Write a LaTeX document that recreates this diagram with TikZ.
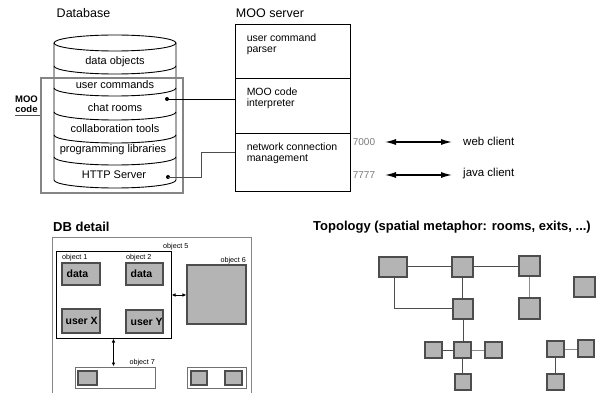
\documentclass[tikz,border=0pt]{standalone}
\usepackage{fontspec}
\setmainfont{Liberation Sans}
\usetikzlibrary{arrows.meta}
\definecolor{boxfill}{HTML}{B4B4B4}
\definecolor{boxline}{HTML}{4D4D4D}
\definecolor{frameline}{HTML}{858585}
\definecolor{portgray}{HTML}{7A7A7A}
\definecolor{edgelight}{HTML}{8C8C8C}
\newcommand{\myfs}[1]{\fontsize{#1}{#1}\selectfont}
\begin{document}
\begin{tikzpicture}[x=1pt,y=-1pt,
  lbl/.style={inner sep=0pt, font=\myfs{11}},
  title/.style={inner sep=0pt, font=\myfs{12.5}},
  btitle/.style={inner sep=0pt, font=\bfseries\myfs{13}},
  srvbox/.style={draw, line width=0.9pt, minimum width=115pt, inner sep=0pt},
  srvtext/.style={inner sep=0pt, align=left, anchor=north west, font=\fontsize{10.5}{11}\selectfont},
  port/.style={inner sep=0pt, text=portgray, font=\myfs{10}},
  client/.style={inner sep=0pt, anchor=west, font=\myfs{11.5}},
  biarrow/.style={{Latex[length=11pt,width=6pt]}-{Latex[length=11pt,width=6pt]}, line width=1.3pt},
  smallarrow/.style={{Latex[length=4pt,width=3.5pt]}-{Latex[length=4pt,width=3.5pt]}, line width=0.9pt},
  dot/.style={circle, fill=black, inner sep=0pt, minimum size=4pt},
  conn/.style={line width=0.9pt},
  grayobj/.style={draw=boxline, fill=boxfill, line width=1.1pt, inner sep=0pt},
  whiteobj/.style={draw=boxline, fill=white, line width=1pt, inner sep=0pt},
  objlbl/.style={inner sep=0pt, font=\myfs{7.2}},
  objtext/.style={inner sep=0pt, anchor=west, font=\bfseries\myfs{10.5}},
  room/.style={draw=boxline, fill=boxfill, line width=1.1pt, inner sep=0pt},
  edge/.style={draw=boxline, line width=1pt},
  edgel/.style={draw=edgelight, line width=1pt}
]
\useasboundingbox (0,0) rectangle (606,393);

% ---------------- Database cylinder ----------------
\node[title] (dbtitle) at (83.5,13) {Database};
\begin{scope}[line width=0.9pt]
  \draw[fill=white] (54,43) -- (54,180) arc[start angle=180, end angle=0, x radius=61, y radius=8] -- (176,43);
  \draw[fill=white] (115,43) ellipse[x radius=61, y radius=8];
  \foreach \yy in {66,88,112,135,157}
    \draw (54,\yy) arc[start angle=180, end angle=0, x radius=61, y radius=8];
\end{scope}
\node[lbl] (t1) at (115,62) {data objects};
\node[lbl] (t2) at (115,85) {user commands};
\node[lbl] (t3) at (115,107.5) {chat rooms};
\node[lbl] (t4) at (115,128.5) {collaboration tools};
\node[lbl] (t5) at (113,150) {programming libraries};
\node[lbl] (t6) at (114,175) {HTTP Server};

% MOO code frame
\node[draw=frameline, line width=1.2pt, minimum width=142pt, minimum height=115pt, inner sep=0pt] (moocode) at (112,135.5) {};
\node[inner sep=0pt, align=center, font=\bfseries\fontsize{9.5}{10}\selectfont] (mootxt) at (26.5,104) {MOO\\code};
\coordinate (ul) at (15,115);
\draw[boxline, line width=0.9pt] (ul) -- (ul -| moocode.west);

\node[dot] (chatdot) at (167,99) {};
\node[dot] (httpdot) at (168,177) {};

% ---------------- MOO server ----------------
\node[title] (srvtitle) at (270,13) {MOO server};
\node[srvbox, minimum height=54pt] (parser) at (292.5,51) {};
\node[srvbox, minimum height=55pt] (interp) at (292.5,105.5) {};
\node[srvbox, minimum height=58pt] (netw) at (292.5,162) {};
\node[srvtext] (parsertxt) at ([xshift=12pt,yshift=-10pt]parser.north west) {user command\\parser};
\node[srvtext] (interptxt) at ([xshift=12pt,yshift=-10.5pt]interp.north west) {MOO code\\interpreter};
\node[srvtext] (netwtxt) at ([xshift=12pt,yshift=-10.5pt]netw.north west) {network connection\\management};

\draw[conn] (chatdot.center) -- (chatdot.center -| interp.west);
\coordinate (bend) at (201,152);
\draw[conn, draw=boxline] (httpdot.center) -| (bend) -- (bend -| netw.west);

% ports and clients
\node[port] (p7000) at (364,142) {7000};
\node[port] (p7777) at (364,175) {7777};
\coordinate (a1s) at (385,142);
\coordinate (a1e) at (452,142);
\coordinate (a2s) at (385,175);
\coordinate (a2e) at (452,175);
\draw[biarrow] (a1s) -- (a1e);
\draw[biarrow] (a2s) -- (a2e);
\node[client] (web) at (463,141) {web client};
\node[client] (java) at (463,174) {java client};

% ---------------- DB detail ----------------
\node[btitle, anchor=west] (dbd) at (53,227) {DB detail};
\draw[frameline, line width=1pt] (52,393) -- (52,238) -- (251,238) -- (251,393);
\node[draw, line width=1pt, minimum width=115pt, minimum height=86pt, inner sep=0pt] (obj5) at (113.5,295) {};
\node[objlbl, anchor=west] (l5) at (163,247) {object 5};
\node[objlbl, anchor=west] (l1) at (62,258) {object 1};
\node[objlbl, anchor=west] (l2) at (126,258) {object 2};
\node[objlbl, anchor=east] (l6) at (246,261) {object 6};
\node[objlbl, anchor=east] (l7) at (155,363) {object 7};

\node[grayobj, minimum width=38pt, minimum height=22pt] (d1) at (81,274) {};
\node[grayobj, minimum width=37pt, minimum height=22pt] (d2) at (144.5,274) {};
\node[grayobj, minimum width=38pt, minimum height=24pt] (ux) at (81,321) {};
\node[grayobj, minimum width=37pt, minimum height=23pt] (uy) at (144.5,321.5) {};
\node[objtext] at ([xshift=5pt]d1.west) {data};
\node[objtext] at ([xshift=5pt]d2.west) {data};
\node[objtext] at ([xshift=4pt]ux.west) {user X};
\node[objtext] at ([xshift=5pt]uy.west) {user Y};

\node[grayobj, minimum width=59pt, minimum height=59pt] (obj6) at (216.5,294.5) {};
\draw[smallarrow] (obj5.east) -- (obj5.east -| obj6.west);

\node[whiteobj, draw=boxline!80, minimum width=80pt, minimum height=21pt] (obj7) at (115,377.5) {};
\node[grayobj, minimum width=19pt, minimum height=14pt] (o7a) at (87.5,378) {};
\draw[smallarrow] (obj5.south) -- (obj5.south |- obj7.north);

\node[whiteobj, draw=boxline!80, minimum width=59pt, minimum height=21pt] (obj8) at (216.5,377.5) {};
\node[grayobj, minimum width=16pt, minimum height=14pt] (o8a) at (199,378) {};
\node[grayobj, minimum width=17pt, minimum height=14pt] (o8b) at (233.5,378) {};

% ---------------- Topology ----------------
\node[btitle, anchor=west] (topo) at (313,227) {Topology (spatial metaphor: rooms, exits, ...)};
\node[room, minimum width=28pt, minimum height=20pt] (A) at (393,267) {};
\node[room, minimum width=21pt, minimum height=20pt] (B) at (462.5,267) {};
\node[room, minimum width=21pt, minimum height=20pt] (C) at (529.5,266) {};
\node[room, minimum width=21pt, minimum height=20pt] (D) at (584.5,287) {};
\node[room, minimum width=20pt, minimum height=20pt] (E) at (463,309) {};
\node[room, minimum width=21pt, minimum height=21pt] (F) at (529.5,308.5) {};
\node[room, minimum width=17pt, minimum height=16pt] (G) at (462.5,350) {};
\node[room, minimum width=17pt, minimum height=16pt] (H) at (433.5,350) {};
\node[room, minimum width=17pt, minimum height=16pt] (I) at (493.5,350) {};
\node[room, minimum width=16pt, minimum height=16pt] (J) at (463,382) {};
\node[room, minimum width=17pt, minimum height=16pt] (K) at (555.5,349) {};
\node[room, minimum width=16pt, minimum height=17pt] (L) at (586,348.5) {};
\node[room, minimum width=17pt, minimum height=16pt] (M) at (555.5,382) {};

\draw[edge] (A.east) -- (A.east -| B.west);
\draw[edge] (B.east) -- (B.east -| C.west);
\draw[edge] ([xshift=1pt]A.south) |- (E.west);
\draw[edge] (B.south) -- (B.south |- E.north);
\draw[edgel] (C.south) -- (C.south |- F.north);
\draw[edge] (E.south) -- (E.south |- G.north);
\draw[edge] (H.east) -- (G.west);
\draw[edgel] (G.east) -- (I.west);
\draw[edge] (G.south) -- (G.south |- J.north);
\draw[edgel] (K.east) -- (K.east -| L.west);
\draw[edge] (K.south) -- (M.north);
\end{tikzpicture}
\end{document}
